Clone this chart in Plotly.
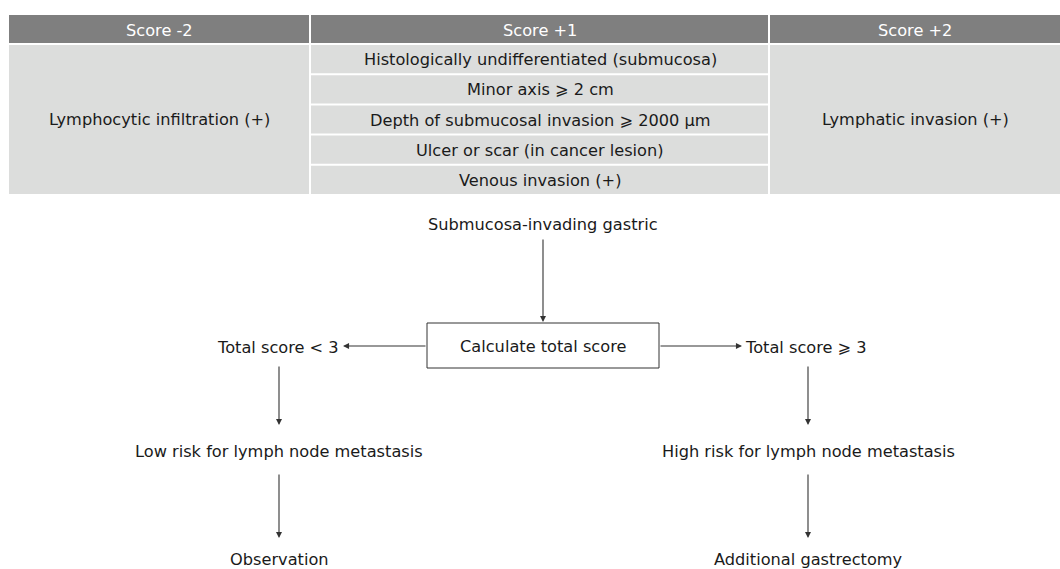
import plotly.graph_objects as go

# ---- data (texts) ----
headers = ["Score -2", "Score +1", "Score +2"]
score_minus2 = ["Lymphocytic infiltration (+)"]
score_plus1 = [
    "Histologically undifferentiated (submucosa)",
    "Minor axis \u2a7e 2 cm",
    "Depth of submucosal invasion \u2a7e 2000 \u03bcm",
    "Ulcer or scar (in cancer lesion)",
    "Venous invasion (+)",
]
score_plus2 = ["Lymphatic invasion (+)"]
flow_start = "Submucosa-invading gastric"
flow_box = "Calculate total score"
branches_left = ["Total score < 3", "Low risk for lymph node metastasis", "Observation"]
branches_right = ["Total score \u2a7e 3", "High risk for lymph node metastasis", "Additional gastrectomy"]

W, H = 1060, 569
FONT = "DejaVu Sans"
FS = 16.2
TXT = "#1a1a1a"
HEAD_BG = "#7f7f7f"
BODY_BG = "#dcdddc"
LINE = "#333333"

fig = go.Figure()
shapes = []
ann = []

def text(x, y, s, color=TXT, xanchor="center", size=FS):
    ann.append(dict(x=x, y=y, xref="x", yref="y", text=s, showarrow=False,
                    xanchor=xanchor, yanchor="middle",
                    font=dict(family=FONT, size=size, color=color)))

def rect(x0, y0, x1, y1, fill, line=None):
    shapes.append(dict(type="rect", xref="x", yref="y", x0=x0, y0=y0, x1=x1, y1=y1,
                       fillcolor=fill, line=dict(width=0) if line is None else line,
                       layer="below"))

def arrow(x0, y0, x1, y1):
    ann.append(dict(x=x1, y=y1, ax=x0, ay=y0, xref="x", yref="y", axref="x", ayref="y",
                    text="", showarrow=True, arrowhead=2, arrowsize=1.1, arrowwidth=1.1,
                    arrowcolor=LINE, standoff=0, startstandoff=0))

# ---- table ----
cols = [(9, 309), (311, 768), (770, 1060)]
head_y = (15, 43)
body_y = (45, 194)
head_cx = [159, 540, 915]
for (x0, x1), h, hx in zip(cols, headers, head_cx):
    rect(x0, head_y[0], x1, head_y[1], HEAD_BG)
    text(hx, (head_y[0] + head_y[1]) / 2 + 1, h, color="white")

# left and right merged cells
rect(cols[0][0], body_y[0], cols[0][1], body_y[1], BODY_BG)
text(head_cx[0], (body_y[0] + body_y[1]) / 2, score_minus2[0])
rect(cols[2][0], body_y[0], cols[2][1], body_y[1], BODY_BG)
text(head_cx[2], (body_y[0] + body_y[1]) / 2, score_plus2[0])

# middle column rows
n = len(score_plus1)
row_h = (body_y[1] - body_y[0] + 2) / n
for i, s in enumerate(score_plus1):
    y0 = body_y[0] + i * row_h
    y1 = y0 + row_h - 2
    rect(cols[1][0], y0, cols[1][1], y1, BODY_BG)
    text(head_cx[1], (y0 + y1) / 2 + 0.5, s)

# ---- flowchart ----
cx = 543
text(cx, 224, flow_start)
arrow(cx, 238, cx, 322)
shapes.append(dict(type="rect", xref="x", yref="y", x0=427, y0=323, x1=659, y1=368,
                   fillcolor="white", line=dict(color=LINE, width=1)))
text(cx, 346, flow_box)

# left branch
arrow(427, 346, 343, 346)
text(341, 347, branches_left[0], xanchor="right")
lx = 279
arrow(lx, 365, lx, 425)
text(lx, 451, branches_left[1])
arrow(lx, 473, lx, 538)
text(lx, 559, branches_left[2])

# right branch
arrow(659, 346, 742, 346)
text(743, 347, branches_right[0], xanchor="left")
rx = 808
arrow(rx, 365, rx, 425)
text(rx, 451, branches_right[1])
arrow(rx, 473, rx, 538)
text(rx, 559, branches_right[2])

fig.update_layout(
    width=W, height=H, margin=dict(l=0, r=0, t=0, b=0),
    paper_bgcolor="white", plot_bgcolor="white",
    xaxis=dict(range=[0, W], visible=False, fixedrange=True),
    yaxis=dict(range=[H, 0], visible=False, fixedrange=True),
    shapes=shapes, annotations=ann, showlegend=False,
)
fig.write_html(
    "out.html",
    config={"displayModeBar": False},
    post_script="document.body.style.margin='0';document.body.style.overflow='hidden';",
)
